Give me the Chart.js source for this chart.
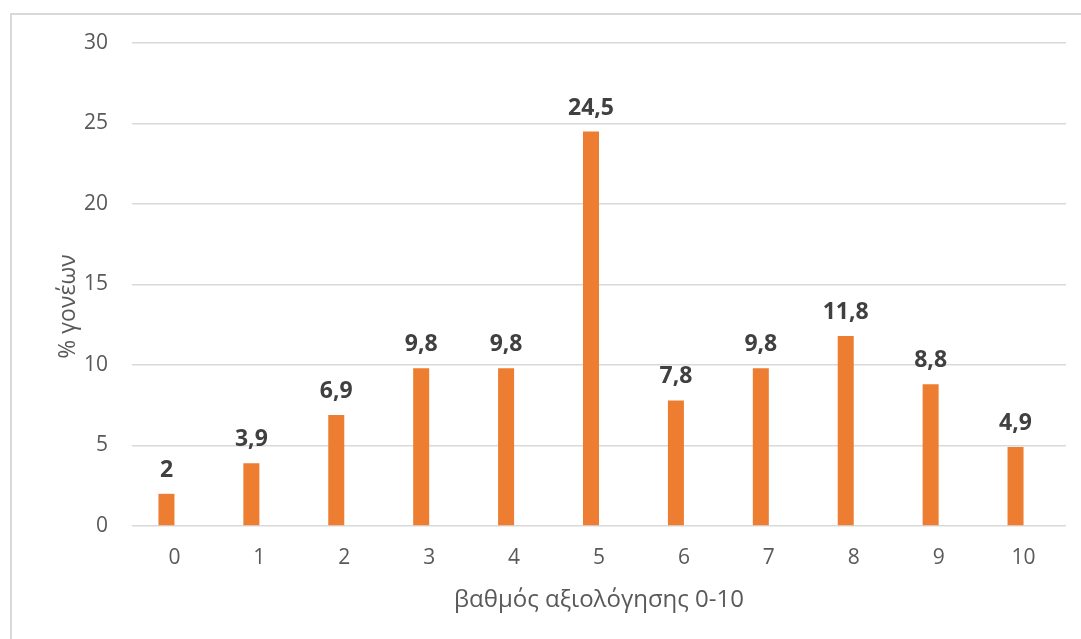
<!DOCTYPE html>
<html>
<head>
<meta charset="utf-8">
<script src="https://cdn.jsdelivr.net/npm/chart.js@4/dist/chart.umd.min.js"></script>
<style>
    html, body { margin: 0; padding: 0; background: #fff; overflow: hidden; }
    #frame {
        position: absolute; left: 10px; top: 13px;
        width: 1100px; height: 660px;
        border: 2px solid #d9d9d9;
    }
    #wrap { position: absolute; left: 0; top: 0; width: 1081px; height: 639px; }
</style>
</head>
<body>
<div id="frame"></div>
<div id="wrap"><canvas id="statsChart"></canvas></div>
<script>
const categories = ['0', '1', '2', '3', '4', '5', '6', '7', '8', '9', '10']
const parentsPct = [2, 3.9, 6.9, 9.8, 9.8, 24.5, 7.8, 9.8, 11.8, 8.8, 4.9]
const emptySeries = [null, null, null, null, null, null, null, null, null, null, null]
const yTicks = [0, 5, 10, 15, 20, 25, 30]

const xTitle = 'βαθμός αξιολόγησης 0-10'
const yTitle = '% γονέων'

const fontFamily = "'Open Sans', sans-serif"

// bold value labels over the bars
const valueLabels = {
    id: 'valueLabels',
    afterDatasetsDraw(chart) {
        const ctx = chart.ctx
        const meta = chart.getDatasetMeta(0)
        ctx.save()
        ctx.font = 'bold 23px ' + fontFamily
        ctx.fillStyle = '#404040'
        ctx.textAlign = 'center'
        ctx.textBaseline = 'alphabetic'
        meta.data.forEach((bar, i) => {
            const v = parentsPct[i]
            ctx.fillText(String(v).replace('.', ','), bar.x, bar.y - 17)
        })
        ctx.restore()
    }
}

// y axis title, centred a bit lower like the original
const yAxisTitle = {
    id: 'yAxisTitle',
    afterDraw(chart) {
        const ctx = chart.ctx
        const area = chart.chartArea
        ctx.save()
        ctx.translate(68, (area.top + area.bottom) / 2 + 22)
        ctx.rotate(-Math.PI / 2)
        ctx.font = '23px ' + fontFamily
        ctx.fillStyle = '#595959'
        ctx.textAlign = 'center'
        ctx.textBaseline = 'middle'
        ctx.fillText(yTitle, 0, 0)
        ctx.restore()
    }
}

const ctx = document.querySelector('#statsChart')

new Chart(ctx, {
    type: 'bar',
    data: {
        labels: categories,
        datasets: [{
            data: parentsPct,
            backgroundColor: '#ed7d31',
            borderWidth: 0,
            barPercentage: 1,
            categoryPercentage: 0.377
        }, {
            data: emptySeries,
            backgroundColor: '#a5a5a5',
            barPercentage: 1,
            categoryPercentage: 0.377
        }]
    },
    options: {
        responsive: true,
        maintainAspectRatio: false,
        animation: false,
        layout: { padding: { left: 54, top: 43, right: 15, bottom: 24 } },
        plugins: {
            legend: { display: false },
            tooltip: { enabled: false }
        },
        scales: {
            x: {
                grid: { display: false, drawTicks: false },
                border: { display: false },
                ticks: {
                    color: '#595959',
                    font: { family: fontFamily, size: 21 },
                    padding: 19,
                    maxRotation: 0
                },
                title: {
                    display: true,
                    text: xTitle,
                    color: '#595959',
                    font: { family: fontFamily, size: 24 },
                    padding: { top: 0, bottom: 0 }
                },
                afterFit(scale) { scale.height = 89 }
            },
            y: {
                min: 0,
                max: 30,
                grid: { color: '#d9d9d9', lineWidth: 1.5, drawTicks: false },
                border: { display: false },
                afterBuildTicks(scale) { scale.ticks = yTicks.map(v => ({ value: v })) },
                ticks: {
                    color: '#595959',
                    font: { family: fontFamily, size: 21 },
                    padding: 24
                },
                afterFit(scale) { scale.width = 78 }
            }
        }
    },
    plugins: [valueLabels, yAxisTitle]
})
</script>
</body>
</html>
